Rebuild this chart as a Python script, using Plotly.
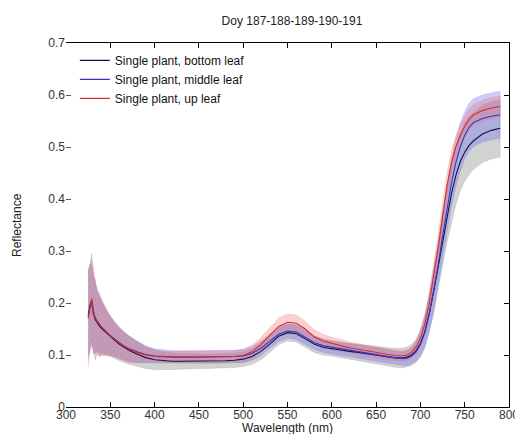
import plotly.graph_objects as go

wavelength = [325, 327, 329, 331, 333, 335, 338, 341, 344, 347, 350, 355, 360, 365, 370,
              380, 390, 400, 410, 420, 430, 440, 450, 460, 470, 480, 490, 500,
              510, 520, 530, 540, 550, 560, 570, 580, 590, 600,
              610, 620, 630, 640, 650, 660, 670, 680, 685, 690, 695, 700,
              705, 710, 715, 720, 725, 730, 735, 740, 745, 750, 755, 760, 770, 780, 790]

bottom_mean = [0.175, 0.195, 0.205, 0.180, 0.168, 0.162, 0.155, 0.150, 0.145, 0.140, 0.135, 0.128, 0.121, 0.115, 0.110,
               0.102, 0.095, 0.091, 0.089, 0.088, 0.088, 0.088, 0.088, 0.088, 0.088, 0.089, 0.090, 0.092,
               0.097, 0.107, 0.121, 0.136, 0.143, 0.141, 0.131, 0.121, 0.115, 0.112,
               0.109, 0.107, 0.105, 0.102, 0.100, 0.097, 0.095, 0.094, 0.096, 0.100, 0.108, 0.122,
               0.145, 0.180, 0.222, 0.270, 0.322, 0.370, 0.410, 0.445, 0.472, 0.490, 0.503, 0.512, 0.525, 0.532, 0.536]
bottom_sd = [0.085, 0.075, 0.090, 0.070, 0.078, 0.060, 0.058, 0.050, 0.046, 0.042, 0.038, 0.034, 0.031, 0.029, 0.027,
             0.024, 0.021, 0.019, 0.017, 0.016, 0.015, 0.015, 0.014, 0.014, 0.014, 0.014, 0.014, 0.014,
             0.015, 0.016, 0.016, 0.016, 0.016, 0.016, 0.016, 0.016, 0.015, 0.014,
             0.014, 0.015, 0.015, 0.016, 0.016, 0.017, 0.018, 0.019, 0.019, 0.020, 0.022, 0.026,
             0.031, 0.036, 0.042, 0.047, 0.051, 0.054, 0.055, 0.056, 0.056, 0.056, 0.056, 0.055, 0.055, 0.055, 0.055]

middle_mean = [0.180, 0.190, 0.200, 0.178, 0.170, 0.165, 0.158, 0.152, 0.147, 0.142, 0.137, 0.130, 0.124, 0.118, 0.113,
               0.106, 0.101, 0.098, 0.097, 0.096, 0.096, 0.096, 0.096, 0.096, 0.096, 0.096, 0.097, 0.098,
               0.103, 0.113, 0.127, 0.140, 0.146, 0.144, 0.134, 0.124, 0.118, 0.115,
               0.112, 0.109, 0.107, 0.104, 0.101, 0.098, 0.095, 0.093, 0.094, 0.098, 0.106, 0.120,
               0.143, 0.178, 0.222, 0.272, 0.328, 0.382, 0.430, 0.470, 0.500, 0.522, 0.538, 0.547, 0.555, 0.559, 0.562]
middle_sd = [0.080, 0.085, 0.070, 0.075, 0.065, 0.058, 0.054, 0.048, 0.044, 0.040, 0.037, 0.033, 0.029, 0.027, 0.025,
             0.021, 0.017, 0.014, 0.013, 0.012, 0.012, 0.012, 0.012, 0.012, 0.012, 0.012, 0.012, 0.013,
             0.013, 0.014, 0.014, 0.014, 0.014, 0.014, 0.014, 0.013, 0.013, 0.013,
             0.013, 0.013, 0.013, 0.013, 0.013, 0.013, 0.013, 0.013, 0.014, 0.015, 0.018, 0.022,
             0.027, 0.032, 0.037, 0.041, 0.044, 0.046, 0.046, 0.046, 0.046, 0.046, 0.046, 0.046, 0.045, 0.045, 0.045]

up_mean = [0.170, 0.190, 0.208, 0.185, 0.172, 0.166, 0.158, 0.152, 0.147, 0.142, 0.137, 0.130, 0.123, 0.117, 0.112,
           0.105, 0.100, 0.097, 0.096, 0.096, 0.096, 0.096, 0.096, 0.096, 0.096, 0.096, 0.097, 0.099,
           0.106, 0.120, 0.138, 0.155, 0.163, 0.161, 0.150, 0.135, 0.127, 0.122,
           0.118, 0.114, 0.111, 0.108, 0.105, 0.102, 0.099, 0.098, 0.100, 0.105, 0.115, 0.132,
           0.160, 0.200, 0.250, 0.305, 0.365, 0.425, 0.470, 0.500, 0.522, 0.540, 0.553, 0.562, 0.570, 0.575, 0.578]
up_sd = [0.095, 0.080, 0.075, 0.082, 0.068, 0.062, 0.060, 0.052, 0.048, 0.043, 0.038, 0.034, 0.030, 0.028, 0.026,
         0.020, 0.015, 0.012, 0.011, 0.011, 0.011, 0.011, 0.011, 0.011, 0.011, 0.011, 0.011, 0.012,
         0.013, 0.014, 0.015, 0.016, 0.016, 0.016, 0.015, 0.014, 0.013, 0.012,
         0.012, 0.011, 0.011, 0.011, 0.011, 0.011, 0.010, 0.010, 0.010, 0.011, 0.013, 0.016,
         0.019, 0.022, 0.024, 0.025, 0.025, 0.024, 0.023, 0.022, 0.021, 0.020, 0.020, 0.020, 0.020, 0.020, 0.020]

series_names = ["Single plant, bottom leaf", "Single plant, middle leaf", "Single plant, up leaf"]
x_ticks = [300, 350, 400, 450, 500, 550, 600, 650, 700, 750, 800]
y_ticks = [0, 0.1, 0.2, 0.3, 0.4, 0.5, 0.6, 0.7]
y_tick_labels = ["0", "0.1", "0.2", "0.3", "0.4", "0.5", "0.6", "0.7"]

line_colors = ["#14143c", "#3535cc", "#dd2a2a"]
band_colors = ["rgba(130,130,130,0.36)", "rgba(110,110,240,0.35)", "rgba(240,110,110,0.32)"]

means = [bottom_mean, middle_mean, up_mean]
sds = [bottom_sd, middle_sd, up_sd]

fig = go.Figure()

for m, s, bc in zip(means, sds, band_colors):
    upper = [a + b for a, b in zip(m, s)]
    lower = [a - b for a, b in zip(m, s)]
    fig.add_trace(go.Scatter(
        x=wavelength + wavelength[::-1],
        y=upper + lower[::-1],
        fill="toself", fillcolor=bc, mode="lines",
        line=dict(width=0.6, color=bc), showlegend=False, hoverinfo="skip"))

for i, (m, name, lc) in enumerate(zip(means, series_names, line_colors)):
    fig.add_trace(go.Scatter(
        x=wavelength, y=m, mode="lines", name=name,
        line=dict(color=lc, width=1.1),
        yaxis="y2" if i == 2 else "y"))

tick_font = dict(family="Liberation Sans, Arial, sans-serif", size=12, color="#333333")

plot_w = 523 - 58 - 13
plot_h = 434 - 35 - 35

fig.update_layout(
    width=523, height=434,
    margin=dict(l=58, r=13, t=35, b=35),
    paper_bgcolor="white", plot_bgcolor="white",
    font=dict(family="Liberation Sans, Arial, sans-serif", size=12, color="#222222"),
    title=dict(text="Doy 187-188-189-190-191", x=284 / 523, xanchor="center",
               y=1 - 13 / 434, yanchor="middle", yref="container",
               font=dict(size=12, color="#222222")),
    xaxis=dict(range=[300, 800], tickvals=x_ticks, ticks="inside", ticklen=5,
               tickcolor="black", showline=True, linecolor="black", linewidth=1,
               mirror="ticks", showgrid=False, zeroline=False, tickfont=tick_font,
               ticklabelstandoff=-3),
    yaxis=dict(range=[0, 0.7], tickvals=y_ticks, ticktext=y_tick_labels,
               ticks="inside", ticklen=5, tickcolor="#555555", showline=False,
               showgrid=False, zeroline=False, tickfont=tick_font),
    yaxis2=dict(overlaying="y", side="right", matches="y", range=[0, 0.7],
                tickvals=y_ticks, ticks="inside", ticklen=5, tickcolor="black",
                showline=True, linecolor="black", linewidth=1,
                showticklabels=False, showgrid=False, zeroline=False),
    legend=dict(x=0.02, y=0.992, xanchor="left", yanchor="top",
                bgcolor="rgba(0,0,0,0)", borderwidth=0, traceorder="normal",
                font=dict(size=12, color="#111111")),
    showlegend=True,
    annotations=[
        dict(text="Wavelength (nm)", x=0.5, y=-(420 - 399) / plot_h, xref="paper", yref="paper",
             xanchor="center", yanchor="middle", showarrow=False,
             font=dict(size=12, color="#222222")),
        dict(text="Reflectance", x=-(58 - 8) / plot_w, y=(399 - 217) / plot_h,
             xref="paper", yref="paper", xanchor="center", yanchor="middle",
             textangle=-90, showarrow=False, font=dict(size=12, color="#222222")),
    ],
)

fig.write_html("out.html")
